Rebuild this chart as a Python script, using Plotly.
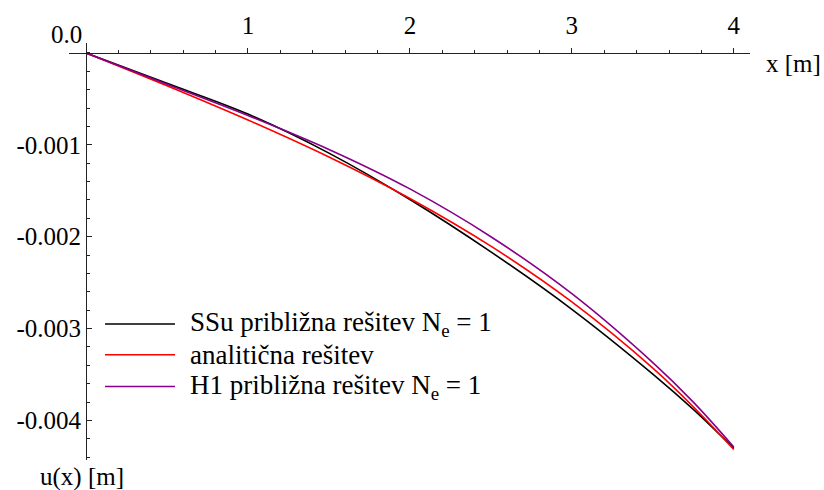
import plotly.graph_objects as go

# Displacement u(x) along the bar [m]
x_m = [0, 0.5, 1.0, 1.5, 2.0, 2.5, 3.0, 3.5, 3.75, 4.0]
u_ssu = [0, -0.00033, -0.000665, -0.00109, -0.001595, -0.002165, -0.00279, -0.003495, -0.00388, -0.004303]
u_analytic = [0, -0.000357, -0.00073, -0.001133, -0.001584, -0.002103, -0.00271, -0.00343, -0.00385, -0.004316]
u_h1 = [0, -0.00034, -0.00068, -0.00105, -0.00148, -0.002, -0.00262, -0.00337, -0.0038, -0.004288]

x_ticks = [1, 2, 3, 4]
y_ticks = [-0.001, -0.002, -0.003, -0.004]
y_ticktext = ["-0.001", "-0.002", "-0.003", "-0.004"]

names = ["SSu približna rešitev N<sub>e</sub> = 1", "analitična rešitev",
         "H1 približna rešitev N<sub>e</sub> = 1"]
series = [u_ssu, u_analytic, u_h1]
colors = ["#000000", "#ff0000", "#880088"]

SERIF = "Liberation Serif"
W, H = 824, 490
L, R, T, B = 69, 74, 40, 30
pw, ph = W - L - R, H - T - B


def px_x(p):
    return (p - L) / pw


def px_y(p):
    return (H - B - p) / ph


fig = go.Figure()
for name, u, c in zip(names, series, colors):
    fig.add_trace(go.Scatter(x=x_m, y=u, mode="lines", name=name, showlegend=False,
                             line=dict(color=c, width=1.6, shape="spline", smoothing=1.0)))

x_range = [-0.105, 4.1]
y_range = [-0.00443, 0.000108]
y0_frac = (0 - y_range[0]) / (y_range[1] - y_range[0])
x0_frac = (0 - x_range[0]) / (x_range[1] - x_range[0])

fig.update_layout(
    width=W, height=H,
    margin=dict(l=L, r=R, t=T, b=B, pad=0),
    paper_bgcolor="white", plot_bgcolor="white",
    font=dict(family=SERIF, size=25, color="black"),
    xaxis=dict(range=x_range, anchor="free", position=y0_frac, side="top",
               showline=True, linecolor="#222", linewidth=1,
               showgrid=False, zeroline=False,
               ticks="outside", ticklen=5, tickcolor="#222",
               tickvals=x_ticks, ticklabelstandoff=4,
               minor=dict(ticks="outside", ticklen=3, tickcolor="#222",
                          tick0=0, dtick=0.2, showgrid=False),
               tickfont=dict(family=SERIF, size=25, color="black")),
    yaxis=dict(range=y_range, anchor="free", position=x0_frac, side="left",
               showline=True, linecolor="#222", linewidth=1,
               showgrid=False, zeroline=False,
               ticks="inside", ticklen=5, tickcolor="#222",
               tickvals=y_ticks, ticktext=y_ticktext,
               minor=dict(ticks="inside", ticklen=3, tickcolor="#222",
                          tick0=0, dtick=0.0002, showgrid=False),
               tickfont=dict(family=SERIF, size=25, color="black")),
    showlegend=False,
)

# Legend: line sample plus label for each series
legend_rows = [323, 354, 386]
for name, c, ry in zip(names, colors, legend_rows):
    fig.add_shape(type="line", xref="paper", yref="paper",
                  x0=px_x(105), x1=px_x(175), y0=px_y(ry), y1=px_y(ry),
                  line=dict(color=c, width=1.6))
    fig.add_annotation(text=name, xref="paper", yref="paper", x=px_x(188), y=px_y(ry),
                       xanchor="left", yanchor="middle", showarrow=False,
                       font=dict(family=SERIF, size=27, color="black"))

fig.add_annotation(text="0.0", xref="paper", yref="paper", x=px_x(66), y=px_y(31),
                   xanchor="center", yanchor="middle", showarrow=False,
                   font=dict(family=SERIF, size=25, color="black"))
fig.add_annotation(text="x [m]", xref="paper", yref="paper", x=px_x(793), y=px_y(61),
                   xanchor="center", yanchor="middle", showarrow=False,
                   font=dict(family=SERIF, size=25, color="black"))
fig.add_annotation(text="u(x) [m]", xref="paper", yref="paper", x=px_x(82), y=px_y(477),
                   xanchor="center", yanchor="middle", showarrow=False,
                   font=dict(family=SERIF, size=25, color="black"))

fig.write_html("out.html")
